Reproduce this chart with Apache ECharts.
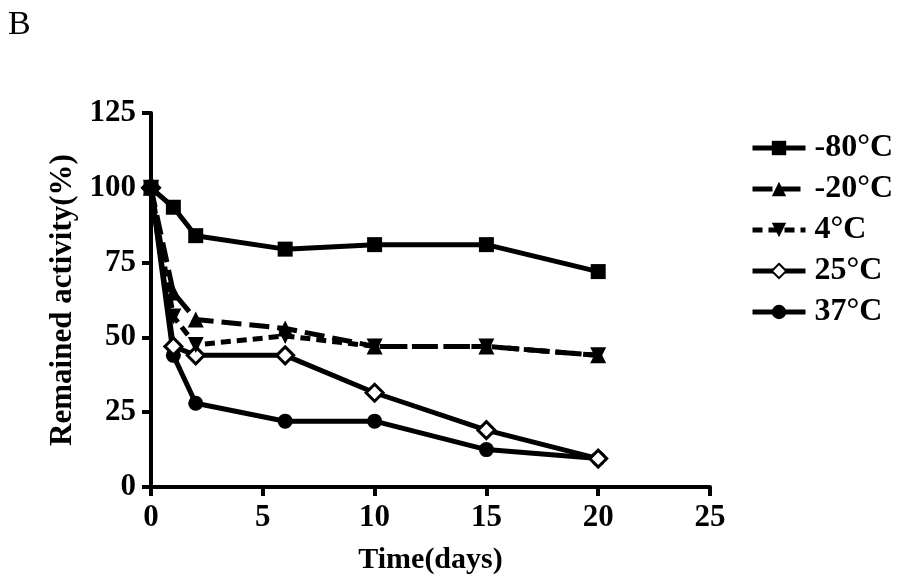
<!DOCTYPE html>
<html><head><meta charset="utf-8">
<script src="https://cdn.jsdelivr.net/npm/echarts@6/dist/echarts.min.js"></script>
<style>html,body{margin:0;padding:0;background:#fff}#c{width:900px;height:585px}</style>
</head><body><div id="c"></div>
<script>
const days = [0, 1, 2, 6, 10, 15, 20];
const seriesNames = ['-80°C', '-20°C', '4°C', '25°C', '37°C'];
const m80 = [100, 93.5, 84, 79.5, 81, 81, 72];
const m20 = [100, 65, 56, 53, 47, 47, 44];
const p4 = [100, 57, 47.5, 50.5, 47, 47, 44];
const p25 = [100, 47, 44, 44, 31.5, 19, 9.5];
const p37 = [100, 44, 28, 22, 22, 12.5, 9.5];
const xTicks = [0, 5, 10, 15, 20, 25];
const yTicks = [0, 25, 50, 75, 100, 125];

const font = 'Liberation Serif';
function pairs(v){ return days.map((d,i)=>[d, v[i]]); }
const styles = [
  {data:m80, symbol:'rect', size:15, dash:'solid', fill:'#000'},
  {data:m20, symbol:'triangle', size:16, dash:[20,8], fill:'#000'},
  {data:p4, symbol:'triangle', size:16, dash:[10,6], fill:'#000', rot:180},
  {data:p25, symbol:'diamond', size:17, dash:'solid', fill:'#fff'},
  {data:p37, symbol:'circle', size:15, dash:'solid', fill:'#000'}
];
const chart = echarts.init(document.getElementById('c'), null, {renderer:'canvas'});
chart.setOption({
  animation:false,
  backgroundColor:'#fff',
  title:{text:'B', left:3, top:3, textStyle:{fontFamily:font, fontWeight:'normal', fontSize:34, color:'#000'}},
  grid:{left:151, right:190, top:113, bottom:98, containLabel:false},
  legend:{
    orient:'vertical', left:745, top:127, itemWidth:53, itemHeight:18, itemGap:9,
    data:seriesNames,
    lineStyle:{width:5},
    textStyle:{fontFamily:font, fontWeight:'bold', fontSize:32, lineHeight:31, color:'#000', padding:[0,0,0,4]}
  },
  xAxis:{
    type:'value', min:xTicks[0], max:xTicks[xTicks.length-1], interval:5,
    name:'Time(days)', nameLocation:'middle', nameGap:58,
    nameTextStyle:{fontFamily:font, fontWeight:'bold', fontSize:30, color:'#000'},
    axisLine:{lineStyle:{color:'#000', width:4}},
    axisTick:{length:9, lineStyle:{width:4, color:'#000'}},
    axisLabel:{fontFamily:font, fontWeight:'bold', fontSize:31, color:'#000', margin:15},
    splitLine:{show:false}
  },
  yAxis:{
    type:'value', min:yTicks[0], max:yTicks[yTicks.length-1], interval:25,
    name:'Remained activity(%)', nameLocation:'middle', nameGap:68,
    nameTextStyle:{fontFamily:font, fontWeight:'bold', fontSize:31, color:'#000'},
    axisLine:{show:true, lineStyle:{color:'#000', width:4}},
    axisTick:{show:true, length:9, lineStyle:{width:4, color:'#000'}},
    axisLabel:{fontFamily:font, fontWeight:'bold', fontSize:31, color:'#000', margin:15},
    splitLine:{show:false}
  },
  series: styles.map((s,i)=>({
    name:seriesNames[i], type:'line', data:pairs(s.data),
    symbol:s.symbol, symbolSize:s.size, symbolRotate:s.rot||0, showAllSymbol:true,
    lineStyle:{color:'#000', width:5, type:s.dash},
    itemStyle:{color:s.fill, borderColor:'#000', borderWidth:s.fill==='#fff'?3:0},
    z: 10 - i
  }))
});
</script></body></html>
